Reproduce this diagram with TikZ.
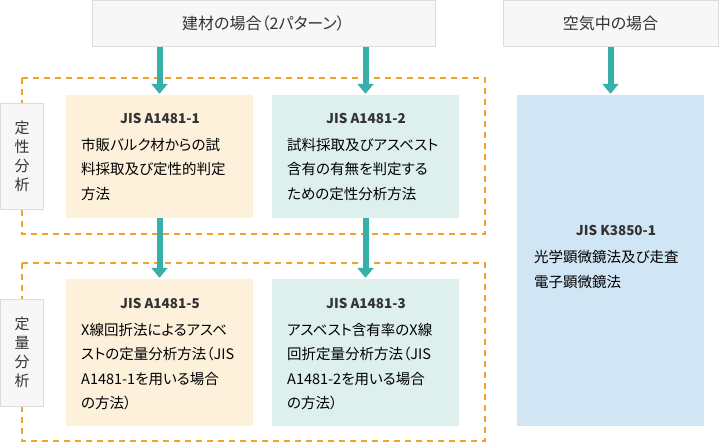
\documentclass[tikz,border=0pt]{standalone}
\usepackage{fontspec}
\setmainfont{Noto Sans CJK JP}[RawFeature=+palt]
\usetikzlibrary{arrows.meta}

\definecolor{flowteal}{HTML}{36B0A9}
\definecolor{dashorange}{HTML}{F1A22A}
\definecolor{greyfill}{HTML}{F7F7F7}
\definecolor{greyline}{HTML}{DCDCDC}
\definecolor{beige}{HTML}{FDF1DC}
\definecolor{paleteal}{HTML}{DDF0EE}
\definecolor{paleblue}{HTML}{D0E6F4}
\definecolor{inktext}{HTML}{333333}

\tikzset{
  greybox/.style={draw=greyline, fill=greyfill, line width=1pt, inner sep=0pt,
    text=inktext, font=\fontsize{16}{20}\selectfont},
  sidebox/.style={greybox, minimum width=43pt, align=center,
    font=\fontsize{15}{19}\selectfont},
  normbox/.style={inner sep=0pt, minimum width=187pt},
  stdhead/.style={inner sep=0pt, text=inktext, font=\fontsize{13.5}{16}\bfseries\selectfont},
  stdbody/.style={inner sep=0pt, anchor=north west, align=left, text=black,
    font=\fontsize{14.5}{24.5}\selectfont},
  groupframe/.style={draw=dashorange, line width=2pt, dash pattern=on 6pt off 5pt},
  flow/.style={draw=flowteal, line width=6pt, shorten >=1pt,
    -{Triangle[width=16pt,length=10pt]}}
}

\begin{document}
\begin{tikzpicture}[x=1pt,y=-1pt]
\useasboundingbox (0,0) rectangle (720,442);

% dashed groups
\draw[groupframe] (22,78) rectangle (485,234);
\draw[groupframe] (22,263) rectangle (485,441);

% headers
\node[greybox, minimum width=343pt, minimum height=45.5pt] (zai) at (263.5,23.25) {建材の場合（2パターン）};
\node[greybox, minimum width=215pt, minimum height=45.5pt] (kuki) at (610.5,23.25) {空気中の場合};

% side labels
\node[sidebox, minimum height=106pt] (teisei) at (22,156) {定\\性\\分\\析};
\node[sidebox, minimum height=107pt] (teiryo) at (22,352.5) {定\\量\\分\\析};

% standard boxes
\node[normbox, fill=beige, minimum height=123pt] (a1) at (159.5,156.5) {};
\node[normbox, fill=paleteal, minimum height=123pt] (a2) at (365.5,156.5) {};
\node[normbox, fill=beige, minimum height=147pt] (a5) at (159.5,352.5) {};
\node[normbox, fill=paleteal, minimum height=147pt] (a3) at (365.5,352.5) {};
\node[normbox, fill=paleblue, minimum height=331pt] (k1) at (610.5,260.5) {};

% texts
\node[stdhead] (a1h) at (160,118) {JIS A1481-1};
\node[stdbody] (a1t) at (81,138) {市販バルク材からの試\\料採取及び定性的判定\\方法};
\node[stdhead] (a2h) at (366,118) {JIS A1481-2};
\node[stdbody] (a2t) at (287,138) {試料採取及びアスベスト\\含有の有無を判定する\\ための定性分析方法};
\node[stdhead] (a5h) at (160,303) {JIS A1481-5};
\node[stdbody] (a5t) at (81,323) {X線回折法によるアスベ\\ストの定量分析方法（JIS\\A1481-1を用いる場合\\の方法）};
\node[stdhead] (a3h) at (366,303) {JIS A1481-3};
\node[stdbody] (a3t) at (287,323) {アスベスト含有率のX線\\回折定量分析方法（JIS\\A1481-2を用いる場合\\の方法）};
\node[stdhead] (k1h) at (616,230) {JIS K3850-1};
\node[stdbody] (k1t) at (534,250.5) {光学顕微鏡法及び走査\\電子顕微鏡法};

% arrows
\draw[flow] (a1.north |- zai.south) -- (a1.north);
\draw[flow] (a2.north |- zai.south) -- (a2.north);
\draw[flow] (k1.north |- kuki.south) -- (k1.north);
\draw[flow] (a1.south) -- (a5.north);
\draw[flow] (a2.south) -- (a3.north);
\end{tikzpicture}
\end{document}
